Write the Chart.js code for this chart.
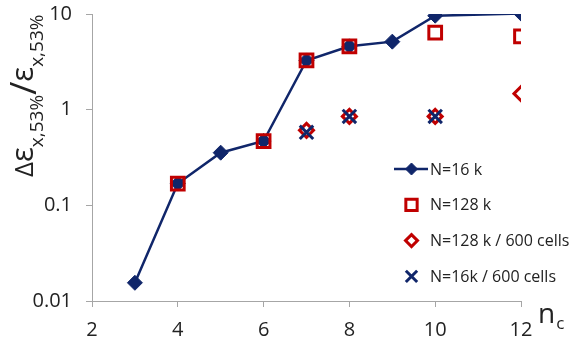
<!DOCTYPE html>
<html><head><meta charset="utf-8">
<script src="https://cdn.jsdelivr.net/npm/chart.js@4"></script>
<style>html,body{margin:0;padding:0;background:#fff}#wrap{width:581px;height:345px;position:relative}</style>
</head><body><div id="wrap"><canvas id="c"></canvas></div>
<script>
const nc16k = [3, 4, 5, 6, 7, 8, 9, 10, 12];
const eps16k = [0.0155, 0.169, 0.355, 0.47, 3.27, 4.59, 5.14, 9.6, 10.1];
const nc128k = [4, 6, 7, 8, 10, 12];
const eps128k = [0.169, 0.47, 3.27, 4.59, 6.38, 5.83];
const nc128k600 = [7, 8, 10, 12];
const eps128k600 = [0.608, 0.85, 0.85, 1.47];
const nc16k600 = [7, 8, 10];
const eps16k600 = [0.58, 0.85, 0.85];
const xTicks = [2, 4, 6, 8, 10, 12];
const yTicks = [0.01, 0.1, 1, 10];
const seriesLabels = ['N=16 k', 'N=128 k', 'N=128 k / 600 cells', 'N=16k / 600 cells'];

const NAVY = '#10266a';
const RED = '#c00000';
const AXIS = '#a6a6a6';
const TXT = '#222222';
const FONT = "'Open Sans'";

function pts(xs, ys) { return xs.map((x, i) => ({x: x, y: ys[i]})); }

const datasets = [
  {label: seriesLabels[0], data: pts(nc16k, eps16k), showLine: true, borderColor: NAVY, borderWidth: 2.5,
   backgroundColor: NAVY, pointStyle: 'rectRot', pointRadius: 7.5, pointBorderWidth: 1,
   pointBorderColor: NAVY, pointBackgroundColor: NAVY, order: 3},
  {label: seriesLabels[1], data: pts(nc128k, eps128k), showLine: false, pointStyle: 'rect', pointRadius: 9,
   pointBorderWidth: 3, pointBorderColor: RED, pointBackgroundColor: 'rgba(0,0,0,0)', borderColor: RED, order: 0},
  {label: seriesLabels[2], data: pts(nc128k600, eps128k600), showLine: false, pointStyle: 'rectRot', pointRadius: 7,
   pointBorderWidth: 3, pointBorderColor: RED, pointBackgroundColor: 'rgba(0,0,0,0)', borderColor: RED, order: 2},
  {label: seriesLabels[3], data: pts(nc16k600, eps16k600), showLine: false, pointStyle: 'crossRot', pointRadius: 9.5,
   pointBorderWidth: 3, pointBorderColor: NAVY, pointBackgroundColor: NAVY, borderColor: NAVY, order: 1}
];

const legendStyles = [
  {pointStyle: 'rectRot', radius: 6, fill: NAVY, stroke: NAVY, bw: 1, line: true},
  {pointStyle: 'rect', radius: 8, fill: 'rgba(0,0,0,0)', stroke: RED, bw: 3},
  {pointStyle: 'rectRot', radius: 6, fill: 'rgba(0,0,0,0)', stroke: RED, bw: 3},
  {pointStyle: 'crossRot', radius: 8, fill: NAVY, stroke: NAVY, bw: 3}
];

const decor = {
  id: 'decor',
  afterDraw(chart) {
    const ctx = chart.ctx;
    // legend
    ctx.save();
    legendStyles.forEach((s, i) => {
      const y = 169 + i * 35.8;
      const x = 411.5;
      if (s.line) {
        ctx.strokeStyle = s.stroke; ctx.lineWidth = 2.5;
        ctx.beginPath(); ctx.moveTo(394, y); ctx.lineTo(428, y); ctx.stroke();
      }
      ctx.fillStyle = s.fill; ctx.strokeStyle = s.stroke; ctx.lineWidth = s.bw;
      Chart.helpers.drawPoint(ctx, {pointStyle: s.pointStyle, radius: s.radius, rotation: 0, borderWidth: s.bw}, x, y);
      ctx.fillStyle = TXT;
      ctx.font = "16px " + FONT;
      ctx.textBaseline = 'middle';
      ctx.textAlign = 'left';
      ctx.fillText(seriesLabels[i], 430, y + 1);
    });
    ctx.restore();

    // y-axis title (rotated)
    ctx.save();
    ctx.translate(33, 177);
    ctx.rotate(-Math.PI / 2);
    ctx.fillStyle = TXT;
    ctx.textBaseline = 'alphabetic';
    ctx.textAlign = 'left';
    const segs = [
      {t: 'Δ', f: 26, dy: 0},
      {t: 'ε', f: 31, dy: 0},
      {t: 'x,53%', f: 19, dy: 10},
      {t: '/', f: 36, dy: 3},
      {t: 'ε', f: 31, dy: 0},
      {t: 'x,53%', f: 19, dy: 10}
    ];
    let x = 0;
    segs.forEach(s => {
      ctx.font = s.f + "px " + FONT;
      ctx.fillText(s.t, x, s.dy);
      x += ctx.measureText(s.t).width;
    });
    ctx.restore();

    // x-axis title n_c
    ctx.save();
    ctx.fillStyle = TXT;
    ctx.textBaseline = 'alphabetic';
    ctx.textAlign = 'left';
    ctx.font = "28px " + FONT;
    ctx.fillText('n', 538, 323);
    const w = ctx.measureText('n').width;
    ctx.font = "17px " + FONT;
    ctx.fillText('c', 538 + w + 1, 329);
    ctx.restore();
  }
};

new Chart(document.getElementById('c'), {
  type: 'scatter',
  data: {datasets: datasets},
  options: {
    responsive: true,
    maintainAspectRatio: false,
    animation: false,
    devicePixelRatio: 1,
    layout: {padding: {top: 14, right: 60, left: 0, bottom: 0}},
    plugins: {legend: {display: false}, tooltip: {enabled: false}},
    scales: {
      x: {
        type: 'linear', min: 2, max: 12,
        afterBuildTicks: s => { s.ticks = xTicks.map(v => ({value: v})); },
        afterFit: s => { s.height = 44; s.paddingLeft = 0; s.paddingRight = 0; },
        ticks: {font: {family: FONT, size: 20}, color: TXT, padding: 11, callback: v => String(v)},
        grid: {drawOnChartArea: false, drawTicks: true, tickLength: 6, color: AXIS, lineWidth: 1},
        border: {color: AXIS, width: 1}
      },
      y: {
        type: 'logarithmic', min: 0.01, max: 10,
        afterBuildTicks: s => { s.ticks = yTicks.map(v => ({value: v})); },
        afterFit: s => { s.width = 92; s.paddingTop = 0; s.paddingBottom = 0; },
        ticks: {font: {family: FONT, size: 20}, color: TXT, padding: 14, callback: v => String(v)},
        grid: {drawOnChartArea: false, drawTicks: true, tickLength: 6, color: AXIS, lineWidth: 1},
        border: {color: AXIS, width: 1}
      }
    }
  },
  plugins: [decor]
});
</script>
</body></html>
